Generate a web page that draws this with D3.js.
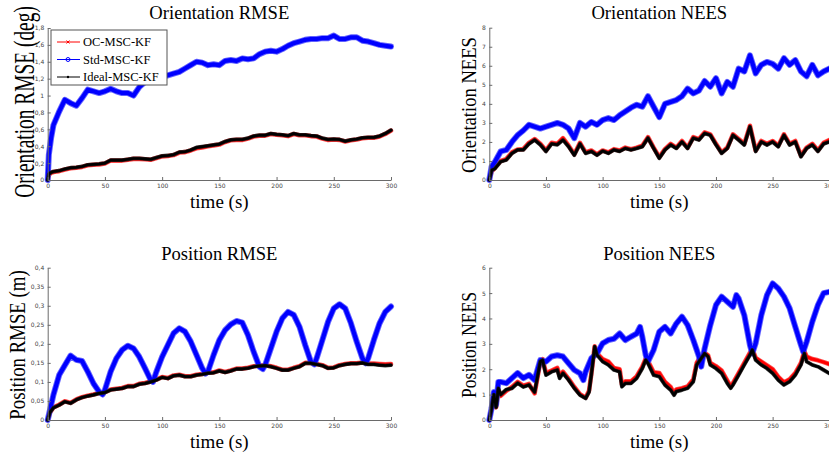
<!DOCTYPE html>
<html><head><meta charset="utf-8">
<script src="https://cdn.jsdelivr.net/npm/d3@7"></script>
<style>
html,body{margin:0;padding:0;background:#fff;}
svg{display:block;}
</style></head>
<body>
<svg id="chart" width="829" height="455"></svg>
<script>
// ---------- DATA ----------
const seriesNames = ["OC-MSC-KF", "Std-MSC-KF", "Ideal-MSC-KF"];
const seriesColors = ["#ff0000", "#0000ff", "#000000"];

// Orientation RMSE (deg)
const oriRmseTime = [0,1,3,5,10,15,20,25,30,35,40,45,50,55,60,65,70,75,80,85,90,95,100,105,110,115,120,125,130,135,140,145,150,155,160,165,170,175,180,185,190,195,200,205,210,215,220,225,230,235,240,245,250,255,260,265,270,275,280,285,290,295,300];
const oriRmseOC = [0,0.06,0.085,0.095,0.105,0.125,0.14,0.145,0.155,0.175,0.18,0.185,0.195,0.23,0.23,0.23,0.24,0.25,0.25,0.245,0.24,0.26,0.28,0.285,0.295,0.325,0.33,0.35,0.375,0.385,0.4,0.41,0.42,0.45,0.47,0.475,0.475,0.49,0.515,0.525,0.525,0.545,0.535,0.53,0.52,0.545,0.53,0.53,0.52,0.515,0.49,0.475,0.48,0.475,0.455,0.47,0.48,0.495,0.5,0.5,0.515,0.545,0.585];
const oriRmseStd = [0,0.3,0.5,0.65,0.81,0.95,0.91,0.88,0.97,1.07,1.05,1.03,1.05,1.08,1.05,1.03,1.03,1.0,1.1,1.16,1.18,1.2,1.22,1.24,1.26,1.28,1.32,1.36,1.40,1.39,1.36,1.37,1.36,1.41,1.42,1.41,1.44,1.43,1.44,1.49,1.52,1.53,1.52,1.55,1.59,1.62,1.64,1.66,1.67,1.67,1.68,1.68,1.71,1.67,1.67,1.69,1.69,1.65,1.64,1.62,1.60,1.59,1.58];
const oriRmseIdeal = [0,0.07,0.09,0.1,0.11,0.13,0.145,0.15,0.16,0.18,0.185,0.19,0.2,0.235,0.235,0.235,0.245,0.255,0.255,0.25,0.245,0.265,0.285,0.29,0.30,0.33,0.335,0.355,0.385,0.395,0.405,0.415,0.425,0.455,0.475,0.48,0.48,0.495,0.52,0.53,0.53,0.55,0.54,0.535,0.525,0.55,0.535,0.535,0.525,0.52,0.495,0.48,0.485,0.48,0.46,0.475,0.485,0.5,0.505,0.505,0.52,0.55,0.59];

// Orientation NEES
const oriNeesTime = [0,2,5,10,15,20,25,30,35,40,45,50,55,60,65,70,75,80,85,90,95,100,105,110,115,120,125,130,135,140,145,150,155,160,165,170,175,180,185,190,195,200,205,210,215,220,225,230,235,240,245,250,255,260,265,270,275,280,285,290,295,300];
const oriNeesOC = [0,0.45,0.65,1.0,1.1,1.45,1.6,1.62,1.95,2.15,1.9,1.55,1.95,1.9,2.2,1.8,1.35,1.95,1.45,1.55,1.35,1.55,1.45,1.62,1.55,1.7,1.62,1.7,1.8,2.25,1.7,1.2,1.62,1.9,1.7,2.05,1.7,2.25,2.15,2.5,2.4,1.9,1.45,1.7,2.4,2.15,1.9,2.85,1.55,2.05,1.9,2.05,1.8,2.4,1.9,2.05,1.28,1.7,1.9,1.55,1.95,2.1];
const oriNeesStd = [0,0.7,0.96,1.5,1.58,2.0,2.36,2.6,2.9,2.8,2.7,2.8,2.9,3.0,2.9,2.7,2.2,3.0,2.8,3.05,2.9,3.15,3.25,3.15,3.4,3.6,3.8,3.95,3.85,4.4,3.85,3.3,4.0,4.1,4.2,4.4,4.8,4.55,4.7,5.2,4.9,5.35,4.55,5.15,4.9,5.85,5.7,6.55,5.6,6.05,6.2,6.1,5.85,6.4,6.05,6.3,5.7,5.45,6.05,5.5,5.7,5.85];
const oriNeesIdeal = [0,0.5,0.6,0.96,1.05,1.4,1.58,1.58,1.9,2.1,1.85,1.5,1.9,1.85,2.1,1.75,1.3,1.9,1.4,1.5,1.3,1.52,1.4,1.58,1.5,1.66,1.58,1.66,1.75,2.2,1.66,1.14,1.58,1.84,1.66,2.0,1.66,2.2,2.1,2.45,2.35,1.85,1.4,1.66,2.35,2.1,1.84,2.8,1.5,2.0,1.84,2.0,1.75,2.35,1.84,2.0,1.22,1.66,1.84,1.5,1.9,2.0];

// Position RMSE (m)
const posRmseTime = [0,2,5,10,15,20,25,30,35,40,45,50,55,60,65,70,75,80,85,90,95,100,105,110,115,120,125,130,135,140,145,150,155,160,165,170,175,180,185,190,195,200,205,210,215,220,225,230,235,240,245,250,255,260,265,270,275,280,285,290,295,300];
const posRmseOC = [0,0.02,0.033,0.04,0.049,0.045,0.054,0.06,0.064,0.067,0.071,0.073,0.08,0.082,0.084,0.089,0.089,0.095,0.097,0.101,0.106,0.113,0.11,0.117,0.119,0.115,0.115,0.119,0.121,0.124,0.125,0.13,0.126,0.13,0.135,0.135,0.137,0.141,0.143,0.144,0.141,0.137,0.132,0.132,0.137,0.141,0.15,0.15,0.147,0.144,0.137,0.138,0.144,0.147,0.149,0.149,0.151,0.148,0.148,0.147,0.146,0.147];
const posRmseStdTime = [0,5,10,15,20,25,30,35,40,45,48,50,55,60,65,70,75,80,85,90,92,95,100,105,110,115,120,125,130,135,138,140,145,150,155,160,165,170,175,180,185,188,190,195,200,205,210,215,220,225,230,233,235,240,245,250,255,260,265,270,275,278,280,285,290,295,300];
const posRmseStd = [0,0.066,0.118,0.144,0.169,0.158,0.155,0.127,0.096,0.074,0.067,0.079,0.127,0.162,0.184,0.195,0.188,0.166,0.136,0.105,0.1,0.127,0.166,0.197,0.228,0.241,0.232,0.206,0.171,0.136,0.122,0.127,0.171,0.21,0.236,0.251,0.26,0.256,0.223,0.179,0.14,0.134,0.144,0.188,0.232,0.267,0.284,0.276,0.245,0.197,0.153,0.146,0.162,0.21,0.258,0.293,0.304,0.293,0.254,0.206,0.162,0.149,0.162,0.21,0.254,0.284,0.298];
const posRmseIdeal = [0,0.02,0.032,0.039,0.048,0.044,0.053,0.059,0.063,0.066,0.07,0.072,0.079,0.081,0.083,0.088,0.088,0.094,0.096,0.1,0.105,0.112,0.109,0.116,0.118,0.114,0.114,0.118,0.12,0.123,0.124,0.129,0.125,0.129,0.134,0.134,0.136,0.14,0.142,0.143,0.14,0.136,0.131,0.131,0.136,0.14,0.149,0.149,0.146,0.143,0.136,0.137,0.143,0.146,0.148,0.148,0.15,0.146,0.146,0.144,0.143,0.144];

// Position NEES
const posNeesTime = [0,2,4,6,8,10,15,20,25,30,35,40,45,47,50,55,60,62,65,70,75,80,85,88,90,93,95,100,105,110,115,117,120,125,130,135,138,140,145,150,155,160,163,165,170,175,180,183,185,190,193,195,200,205,210,213,215,220,225,230,232,235,240,245,250,255,260,265,270,275,278,280,285,290,295,300];
const posNeesOC = [0,0.46,1.0,0.5,1.2,0.95,1.15,1.3,1.5,1.35,1.42,1.05,2.3,2.4,1.85,1.95,2.05,1.75,1.9,1.62,1.3,1.02,0.88,1.15,1.8,2.9,2.62,2.4,2.3,2.05,2.0,1.4,1.52,1.52,1.72,2.1,2.42,2.32,1.88,1.85,1.5,1.3,1.05,1.2,1.25,1.32,1.6,2.25,2.4,2.65,2.55,2.25,2.12,1.95,1.55,1.32,1.45,1.85,2.25,2.65,2.82,2.45,2.3,2.15,2.0,1.7,1.48,1.6,1.85,2.25,2.7,2.5,2.4,2.35,2.28,2.2];
const posNeesStdTime = [0,2,4,6,8,10,15,20,25,30,35,40,45,50,55,60,65,70,75,80,83,85,90,95,100,105,110,115,120,125,130,133,135,138,140,145,150,155,160,165,170,175,180,185,187,190,195,200,205,210,215,218,220,225,230,232,235,240,245,250,255,260,265,270,275,277,280,285,290,295,300];
const posNeesStd = [0,0.46,1.1,0.6,1.5,1.5,1.45,1.65,1.85,1.65,1.78,1.58,2.36,2.3,2.5,2.55,2.5,2.23,1.97,1.84,1.57,1.9,2.43,2.62,3.02,3.15,3.2,3.41,3.15,3.28,3.4,3.67,3.28,2.56,2.3,2.76,3.48,3.67,3.41,3.8,4.07,3.74,3.15,2.5,2.1,2.82,3.74,4.53,4.86,4.66,4.46,4.92,4.79,4.13,2.95,2.62,3.02,4.13,4.92,5.38,5.18,4.86,4.4,3.67,2.95,2.69,3.08,3.87,4.53,5.0,5.05];
const posNeesIdeal = [0,0.46,1.0,0.5,1.25,1.0,1.2,1.25,1.45,1.3,1.38,1.1,2.3,2.36,1.77,1.9,1.97,1.64,1.84,1.57,1.25,0.98,0.85,1.1,1.77,2.89,2.56,2.3,2.17,1.97,1.9,1.31,1.44,1.44,1.64,2.03,2.36,2.23,1.77,1.71,1.38,1.18,0.98,1.12,1.18,1.25,1.51,2.17,2.3,2.62,2.5,2.17,2.03,1.84,1.44,1.25,1.38,1.77,2.17,2.56,2.76,2.36,2.17,2.03,1.84,1.57,1.38,1.51,1.77,2.17,2.62,2.3,2.17,2.1,1.97,1.84];

// Tick values
const xTicks = [0,50,100,150,200,250,300];
const oriRmseTicks = [0,0.2,0.4,0.6,0.8,1,1.2,1.4,1.6,1.8];
const oriNeesTicks = [0,1,2,3,4,5,6,7,8];
const posRmseTicks = [0,0.05,0.1,0.15,0.2,0.25,0.3,0.35,0.4];
const posNeesTicks = [0,1,2,3,4,5,6];

// Titles and labels
const titles = ["Orientation RMSE", "Orientation NEES", "Position RMSE", "Position NEES"];
const yLabels = ["Orientation RMSE (deg)", "Orientation NEES", "Position RMSE (m)", "Position NEES"];
const xLabel = "time (s)";

// ---------- LAYOUT ----------
const svg = d3.select("#chart");
const serif = "'Liberation Serif', 'Times New Roman', serif";

const panels = [
  {left:47.7, right:391, top:28, bottom:180, ymax:1.8, yTicks:oriRmseTicks, title:titles[0], ylabel:yLabels[0],
   titleY:19, xlabY:208, ylabX:34, ylabY:102, ylabSize:19.4, ylabScale:1.5,
   series:[{t:oriRmseTime,v:oriRmseOC},{t:oriRmseTime,v:oriRmseStd},{t:oriRmseTime,v:oriRmseIdeal}], legend:true},
  {left:489.3, right:829.3, top:27.7, bottom:180, ymax:8, yTicks:oriNeesTicks, title:titles[1], ylabel:yLabels[1],
   titleY:19, xlabY:208, ylabX:476, ylabY:105, ylabSize:18.6, ylabScale:1.1,
   series:[{t:oriNeesTime,v:oriNeesOC},{t:oriNeesTime,v:oriNeesStd},{t:oriNeesTime,v:oriNeesIdeal}]},
  {left:47.7, right:391, top:267.7, bottom:420, ymax:0.4, yTicks:posRmseTicks, title:titles[2], ylabel:yLabels[2],
   titleY:260, xlabY:448, ylabX:25, ylabY:345, ylabSize:18.8, ylabScale:1.2,
   series:[{t:posRmseTime,v:posRmseOC},{t:posRmseStdTime,v:posRmseStd},{t:posRmseTime,v:posRmseIdeal}]},
  {left:489.3, right:829.3, top:267.7, bottom:420, ymax:6, yTicks:posNeesTicks, title:titles[3], ylabel:yLabels[3],
   titleY:260, xlabY:448, ylabX:476, ylabY:345, ylabSize:17.6, ylabScale:1.15,
   series:[{t:posNeesTime,v:posNeesOC},{t:posNeesStdTime,v:posNeesStd},{t:posNeesTime,v:posNeesIdeal}]}
];

const fmt = d => String(d).replace(".", ",");
// [halo colour, halo width, core width] per series
const strokeStyle = [["#ff2a2a", 4.6, 3.0], ["#4646ff", 6.0, 4.2], ["#1a1a1a", 3.8, 2.6]];

panels.forEach(p => {
  const x = d3.scaleLinear().domain([0,300]).range([p.left, p.right]);
  const y = d3.scaleLinear().domain([0,p.ymax]).range([p.bottom, p.top]);
  const g = svg.append("g");

  // series
  p.series.forEach((s, i) => {
    const pts = s.t.map((t, k) => [t, s.v[k]]);
    const line = d3.line().x(d => x(d[0])).y(d => y(d[1]));
    const [halo, hw, cw] = strokeStyle[i];
    g.append("path").datum(pts).attr("d", line)
      .attr("fill", "none").attr("stroke", halo).attr("stroke-opacity", 0.85)
      .attr("stroke-width", hw).attr("stroke-linejoin", "round").attr("stroke-linecap", "round");
    g.append("path").datum(pts).attr("d", line)
      .attr("fill", "none").attr("stroke", seriesColors[i])
      .attr("stroke-width", cw).attr("stroke-linejoin", "round").attr("stroke-linecap", "round");
  });

  // axes
  const ax = g.append("g").attr("transform", `translate(0,${p.bottom})`)
    .call(d3.axisBottom(x).tickValues(xTicks).tickFormat(fmt).tickSizeInner(-3).tickSizeOuter(0).tickPadding(4));
  const ay = g.append("g").attr("transform", `translate(${p.left},0)`)
    .call(d3.axisLeft(y).tickValues(p.yTicks).tickFormat(fmt).tickSizeInner(-3).tickSizeOuter(0).tickPadding(3.5));
  [ax, ay].forEach(a => {
    a.select(".domain").attr("stroke", "#6a6a6a").attr("stroke-width", 1);
    a.selectAll(".tick line").attr("stroke", "#6a6a6a");
    a.selectAll(".tick text").attr("fill", "#444").attr("font-size", 6)
      .attr("font-family", "'DejaVu Sans', sans-serif");
  });

  // title
  svg.append("text").attr("x", (p.left + p.right) / 2).attr("y", p.titleY)
    .attr("text-anchor", "middle").attr("font-family", serif).attr("font-size", 18.6).attr("fill", "#000")
    .text(p.title);
  // x label
  svg.append("text").attr("x", (p.left + p.right) / 2).attr("y", p.xlabY)
    .attr("text-anchor", "middle").attr("font-family", serif).attr("font-size", 19).attr("fill", "#000")
    .text(xLabel);
  // y label
  svg.append("text").attr("transform", `translate(${p.ylabX},${p.ylabY}) rotate(-90) scale(1,${p.ylabScale})`)
    .attr("text-anchor", "middle").attr("font-family", serif).attr("font-size", p.ylabSize).attr("fill", "#000")
    .text(p.ylabel);

  // legend
  if (p.legend) {
    const lg = svg.append("g");
    lg.append("rect").attr("x", 51).attr("y", 30).attr("width", 116).attr("height", 55)
      .attr("fill", "#fff").attr("stroke", "#555").attr("stroke-width", 1);
    const rows = [42, 59.5, 77];
    seriesNames.forEach((name, i) => {
      const ry = rows[i];
      lg.append("line").attr("x1", 57).attr("x2", 80).attr("y1", ry).attr("y2", ry)
        .attr("stroke", seriesColors[i]).attr("stroke-width", 1);
      if (i === 0) {
        lg.append("path").attr("d", `M66.5,${ry-1.5}L69.5,${ry+1.5}M66.5,${ry+1.5}L69.5,${ry-1.5}`)
          .attr("stroke", seriesColors[i]).attr("stroke-width", 1);
      } else if (i === 1) {
        lg.append("circle").attr("cx", 68).attr("cy", ry).attr("r", 2).attr("fill", "none")
          .attr("stroke", seriesColors[i]).attr("stroke-width", 1);
      } else {
        lg.append("circle").attr("cx", 68).attr("cy", ry).attr("r", 1.2).attr("fill", seriesColors[i]);
      }
      lg.append("text").attr("x", 83).attr("y", ry + 4.2).attr("font-family", serif).attr("font-size", 12.5)
        .attr("fill", "#000").text(name);
    });
  }
});
</script>
</body></html>
